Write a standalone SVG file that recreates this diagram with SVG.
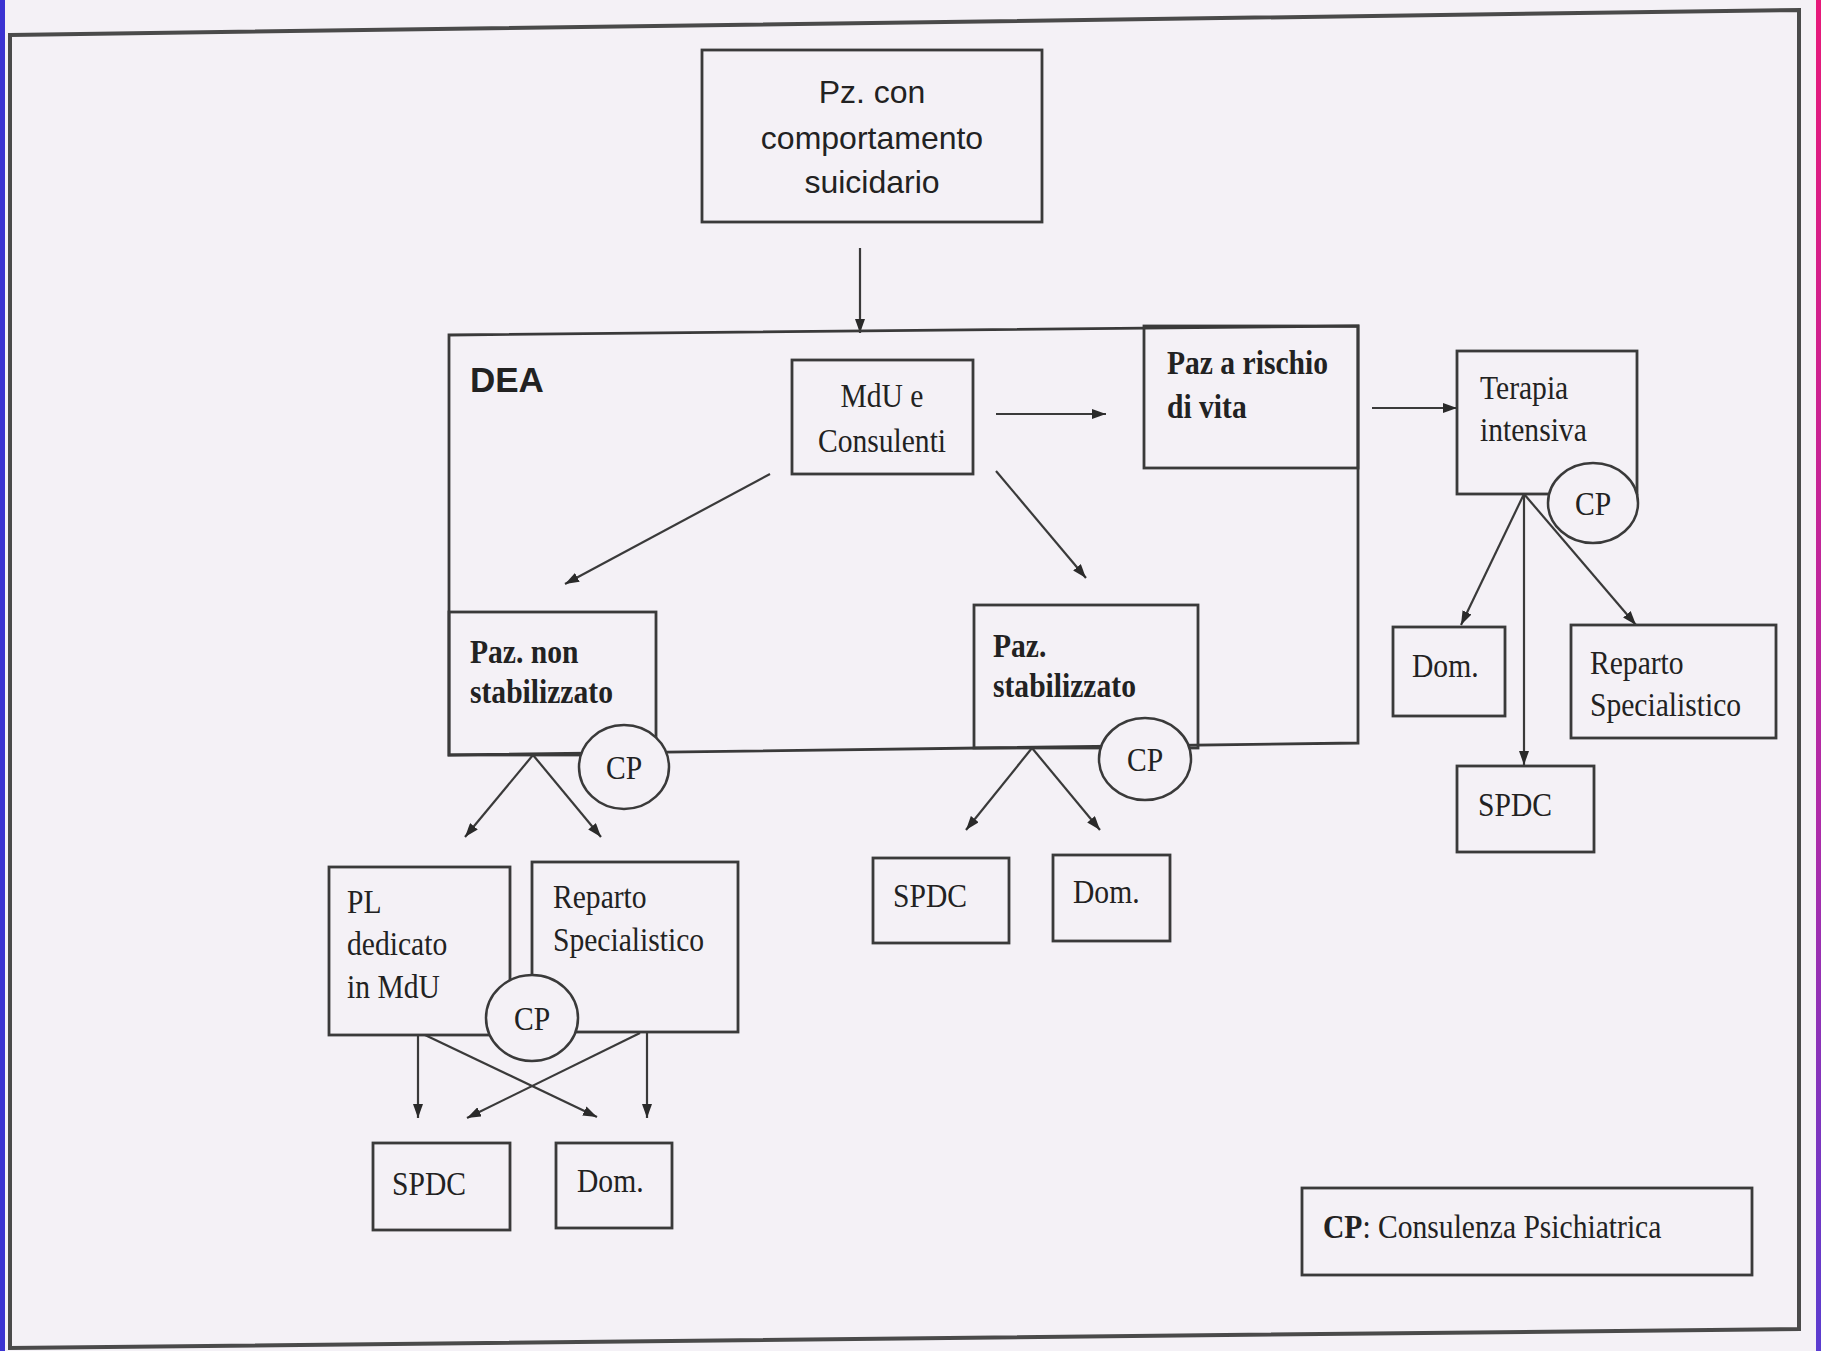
<svg xmlns="http://www.w3.org/2000/svg" width="1821" height="1351" viewBox="0 0 1821 1351">
<style>
.bx{fill:none;stroke:#3a3a3a;stroke-width:2.8}
.cp{fill:#f4f1f6;stroke:#3a3a3a;stroke-width:2.5}
.ln{fill:none;stroke:#3a3a3a;stroke-width:2.2;marker-end:url(#ah)}
.sf{font-family:"Liberation Serif","Times New Roman",serif;font-size:34px;fill:#222}
.sfb{font-family:"Liberation Serif","Times New Roman",serif;font-size:34px;font-weight:bold;fill:#222}
.ss{font-family:"Liberation Sans",Arial,sans-serif;font-size:32px;fill:#222;text-anchor:middle}
.mid{text-anchor:middle}
</style>
<defs>
<marker id="ah" viewBox="0 0 14 10" refX="14" refY="5" markerWidth="14" markerHeight="10" markerUnits="userSpaceOnUse" orient="auto">
<path d="M0,0 L14,5 L0,10 z" fill="#2a2a2a"/>
</marker>
<linearGradient id="rs" x1="0" y1="0" x2="0" y2="1">
<stop offset="0" stop-color="#e8187a"/>
<stop offset="0.6" stop-color="#b02aa8"/>
<stop offset="1" stop-color="#5a3cd0"/>
</linearGradient>
</defs>
<rect x="0" y="0" width="1821" height="1351" fill="#f4f1f6"/>
<rect x="0" y="0" width="5" height="1351" fill="#3b33d2"/>
<rect x="1816" y="0" width="5" height="1351" fill="url(#rs)"/>
<polygon points="10,35 1799,10 1799,1329 10,1348" fill="none" stroke="#4a4a4a" stroke-width="4"/>

<g id="connectors">
<line class="ln" x1="860" y1="248" x2="860" y2="333"/>
<line class="ln" x1="996" y1="414" x2="1106" y2="414"/>
<line class="ln" x1="770" y1="474" x2="565" y2="584"/>
<line class="ln" x1="996" y1="471" x2="1086" y2="578"/>
<line class="ln" x1="1372" y1="408" x2="1457" y2="408"/>
<line class="ln" x1="533" y1="755" x2="465" y2="837"/>
<line class="ln" x1="533" y1="755" x2="601" y2="837"/>
<line class="ln" x1="1032" y1="748" x2="966" y2="830"/>
<line class="ln" x1="1032" y1="748" x2="1100" y2="830"/>
<line class="ln" x1="1524" y1="494" x2="1461" y2="625"/>
<line class="ln" x1="1524" y1="494" x2="1524" y2="765"/>
<line class="ln" x1="1524" y1="494" x2="1636" y2="625"/>
<line class="ln" x1="418" y1="1035" x2="418" y2="1118"/>
<line class="ln" x1="647" y1="1033" x2="647" y2="1118"/>
<line class="ln" x1="425" y1="1035" x2="597" y2="1117"/>
<line class="ln" x1="640" y1="1033" x2="467" y2="1118"/>
</g>

<g id="n-top">
<rect class="bx" x="702" y="50" width="340" height="172"/>
<text class="ss" x="872" y="103">Pz. con</text>
<text class="ss" x="872" y="149">comportamento</text>
<text class="ss" x="872" y="193">suicidario</text>
</g>

<g id="n-dea">
<polygon class="bx" points="449,335 1358,326 1358,743 449,755"/>
<text x="470" y="392" font-family="Liberation Sans,Arial,sans-serif" font-size="35" font-weight="bold" fill="#222">DEA</text>
</g>

<g id="n-mdu">
<rect class="bx" x="792" y="360" width="181" height="114"/>
<text class="sf mid" transform="translate(882 407) scale(0.87 1)">MdU e</text>
<text class="sf mid" transform="translate(882 452) scale(0.87 1)">Consulenti</text>
</g>

<g id="n-rischio">
<rect class="bx" x="1144" y="326" width="214" height="142"/>
<text class="sfb" transform="translate(1167 374) scale(0.87 1)">Paz a rischio</text>
<text class="sfb" transform="translate(1167 418) scale(0.87 1)">di vita</text>
</g>

<g id="n-nonstab">
<rect class="bx" x="449" y="612" width="207" height="143"/>
<text class="sfb" transform="translate(470 663) scale(0.87 1)">Paz. non</text>
<text class="sfb" transform="translate(470 703) scale(0.87 1)">stabilizzato</text>
</g>

<g id="n-stab">
<rect class="bx" x="974" y="605" width="224" height="143"/>
<text class="sfb" transform="translate(993 657) scale(0.87 1)">Paz.</text>
<text class="sfb" transform="translate(993 697) scale(0.87 1)">stabilizzato</text>
</g>

<g id="n-cp1">
<ellipse class="cp" cx="624" cy="767" rx="45" ry="42"/>
<text class="sf mid" transform="translate(624 779) scale(0.87 1)">CP</text>
</g>

<g id="n-cp3">
<ellipse class="cp" cx="1145" cy="759" rx="46" ry="41"/>
<text class="sf mid" transform="translate(1145 771) scale(0.87 1)">CP</text>
</g>

<g id="n-terapia">
<rect class="bx" x="1457" y="351" width="180" height="143"/>
<text class="sf" transform="translate(1480 399) scale(0.87 1)">Terapia</text>
<text class="sf" transform="translate(1480 441) scale(0.87 1)">intensiva</text>
</g>

<g id="n-cp4">
<ellipse class="cp" cx="1593" cy="503" rx="45" ry="40"/>
<text class="sf mid" transform="translate(1593 515) scale(0.87 1)">CP</text>
</g>

<g id="n-pl">
<rect class="bx" x="329" y="867" width="181" height="168"/>
<text class="sf" transform="translate(347 913) scale(0.87 1)">PL</text>
<text class="sf" transform="translate(347 955) scale(0.87 1)">dedicato</text>
<text class="sf" transform="translate(347 998) scale(0.87 1)">in MdU</text>
</g>

<g id="n-reparto-l">
<rect class="bx" x="532" y="862" width="206" height="170"/>
<text class="sf" transform="translate(553 908) scale(0.87 1)">Reparto</text>
<text class="sf" transform="translate(553 951) scale(0.87 1)">Specialistico</text>
</g>

<g id="n-cp2">
<ellipse class="cp" cx="532" cy="1018" rx="46" ry="43"/>
<text class="sf mid" transform="translate(532 1030) scale(0.87 1)">CP</text>
</g>

<g id="n-spdc-l">
<rect class="bx" x="373" y="1143" width="137" height="87"/>
<text class="sf" transform="translate(392 1195) scale(0.87 1)">SPDC</text>
</g>

<g id="n-dom-l">
<rect class="bx" x="556" y="1143" width="116" height="85"/>
<text class="sf" transform="translate(577 1192) scale(0.87 1)">Dom.</text>
</g>

<g id="n-spdc-m">
<rect class="bx" x="873" y="858" width="136" height="85"/>
<text class="sf" transform="translate(893 907) scale(0.87 1)">SPDC</text>
</g>

<g id="n-dom-m">
<rect class="bx" x="1053" y="855" width="117" height="86"/>
<text class="sf" transform="translate(1073 903) scale(0.87 1)">Dom.</text>
</g>

<g id="n-dom-r">
<rect class="bx" x="1393" y="627" width="112" height="89"/>
<text class="sf" transform="translate(1412 677) scale(0.87 1)">Dom.</text>
</g>

<g id="n-reparto-r">
<rect class="bx" x="1571" y="625" width="205" height="113"/>
<text class="sf" transform="translate(1590 674) scale(0.87 1)">Reparto</text>
<text class="sf" transform="translate(1590 716) scale(0.87 1)">Specialistico</text>
</g>

<g id="n-spdc-r">
<rect class="bx" x="1457" y="766" width="137" height="86"/>
<text class="sf" transform="translate(1478 816) scale(0.87 1)">SPDC</text>
</g>

<g id="n-legend">
<rect class="bx" x="1302" y="1188" width="450" height="87"/>
<text class="sf" transform="translate(1323 1238) scale(0.87 1)"><tspan font-weight="bold">CP</tspan>: Consulenza Psichiatrica</text>
</g>
</svg>
